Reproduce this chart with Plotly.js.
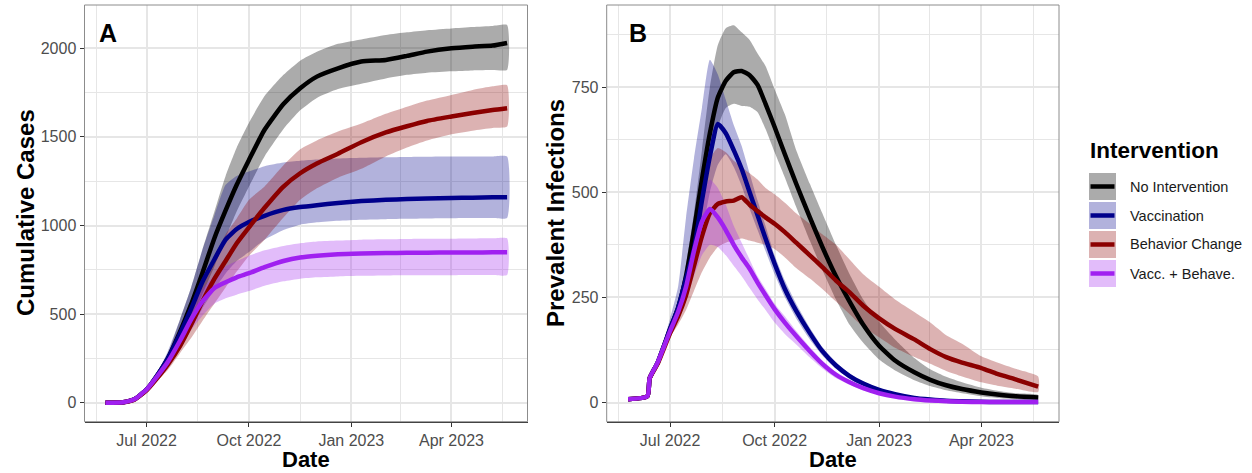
<!DOCTYPE html>
<html>
<head>
<meta charset="utf-8">
<script src="https://cdn.plot.ly/plotly-3.0.1.min.js"></script>
<style>html,body{margin:0;padding:0;background:#fff}#chart{width:1252px;height:473px}</style>
</head>
<body>
<div id="chart"></div>
<script>
// ---------- DATA ----------
const seriesNames = ['No Intervention', 'Vaccination', 'Behavior Change', 'Vacc. + Behave.'];

// Panel A: cumulative cases
const datesA = ['2022-05-25','2022-06-10','2022-06-20','2022-07-01','2022-07-10','2022-07-20','2022-07-31','2022-08-10','2022-08-20','2022-08-31','2022-09-10','2022-09-20','2022-10-01','2022-10-15','2022-11-01','2022-11-16','2022-12-01','2022-12-20','2023-01-10','2023-02-01','2023-02-20','2023-03-10','2023-04-01','2023-04-20','2023-05-08','2023-05-21'];
const cumNoInt   = [0,3,20,75,150,250,400,555,730,930,1085,1230,1370,1540,1685,1774,1840,1887,1925,1934,1957,1981,2000,2009,2015,2030];
const cumNoIntLo = [0,3,20,72,140,225,350,470,610,770,930,1080,1220,1390,1545,1650,1720,1770,1800,1830,1850,1862,1870,1875,1877,1878];
const cumNoIntHi = [0,3,20,78,160,275,470,650,860,1080,1280,1440,1580,1730,1850,1930,1980,2025,2050,2075,2090,2102,2112,2120,2126,2131];
const cumVacc    = [0,3,20,75,150,250,390,530,680,810,920,980,1020,1055,1088,1104,1115,1127,1138,1145,1149,1152,1155,1157,1159,1160];
const cumVaccLo  = [0,3,20,72,140,225,340,420,530,640,730,800,850,920,975,1005,1018,1027,1033,1036,1038,1040,1041,1042,1043,1043];
const cumVaccHi  = [0,3,20,80,165,290,470,650,860,1060,1230,1280,1305,1335,1355,1365,1372,1378,1382,1385,1387,1388,1389,1389,1390,1390];
const cumBeh     = [0,3,18,70,135,215,320,440,570,700,800,900,990,1100,1220,1295,1350,1405,1470,1525,1560,1590,1615,1635,1652,1662];
const cumBehLo   = [0,3,18,66,120,185,280,365,460,560,650,740,830,920,1045,1145,1210,1270,1320,1390,1440,1480,1515,1535,1550,1558];
const cumBehHi   = [0,3,18,74,150,245,370,520,680,830,950,1040,1145,1220,1340,1430,1480,1530,1575,1630,1670,1705,1737,1765,1785,1792];
const cumVB      = [0,3,20,75,145,230,350,470,570,648,680,708,731,765,800,820,830,838,842,845,846,847,848,848,849,849];
const cumVBLo    = [0,3,20,72,135,205,300,410,490,560,590,610,630,660,685,700,708,713,716,718,719,720,720,721,721,721];
const cumVBHi    = [0,3,20,78,155,255,390,520,640,720,770,800,830,860,885,900,910,915,920,922,924,925,926,927,928,928];

// Panel B: prevalent infections
const datesB = ['2022-05-25','2022-06-11','2022-06-13','2022-06-20','2022-07-01','2022-07-08','2022-07-15','2022-07-22','2022-07-29','2022-08-05','2022-08-12','2022-08-19','2022-08-26','2022-09-02','2022-09-09','2022-09-16','2022-09-23','2022-10-01','2022-10-10','2022-10-20','2022-11-01','2022-11-12','2022-11-24','2022-12-06','2022-12-18','2023-01-01','2023-01-15','2023-02-01','2023-02-15','2023-03-01','2023-03-15','2023-04-01','2023-04-15','2023-05-01','2023-05-21'];
const prevNoInt   = [8,15,58,95,175,225,300,410,530,640,725,765,785,788,778,755,710,655,590,520,440,370,300,240,185,135,100,72,54,41,32,24,19,15,12];
const prevNoIntLo = [8,15,58,92,165,210,275,360,470,570,655,700,710,705,703,690,650,595,535,465,385,315,245,185,142,102,76,53,39,29,22,15,11,8,6];
const prevNoIntHi = [8,15,58,100,185,240,330,450,600,750,850,890,897,880,862,830,800,745,685,600,520,450,375,305,245,192,150,106,79,61,48,35,28,22,18];
const prevVacc    = [8,15,58,95,175,225,295,365,480,585,662,640,600,555,500,445,390,330,270,218,165,122,88,63,45,30,20,11,7,4,3,2,1,1,1];
const prevVaccLo  = [8,15,58,92,165,205,260,320,400,500,565,590,560,515,460,410,360,305,250,200,150,112,80,56,40,26,17,9,5,3,2,1,0.5,0.5,0.5];
const prevVaccHi  = [8,15,58,100,200,275,440,580,700,815,780,720,660,610,545,480,420,350,290,235,178,132,96,69,50,34,23,13,8,5,4,3,2,2,2];
const prevBeh     = [8,15,58,92,165,205,255,325,395,450,472,478,480,488,470,455,440,425,405,380,350,322,290,262,230,200,175,150,127,108,95,82,68,55,38];
const prevBehLo   = [8,15,58,88,155,185,220,265,310,345,370,380,385,390,385,380,375,365,345,320,295,270,240,210,180,155,130,108,92,75,62,48,40,33,25];
const prevBehHi   = [8,15,58,95,175,230,310,410,510,580,605,595,575,560,545,530,510,495,475,450,425,400,375,340,305,275,245,215,190,160,140,110,95,80,62];
const prevVB      = [8,15,58,95,170,215,275,360,430,460,440,410,375,345,318,285,255,222,190,158,122,92,66,48,34,22,14,8,5,3,2,1,1,1,1];
const prevVBLo    = [8,15,58,92,160,195,240,300,350,375,370,350,325,300,272,245,220,190,163,138,107,81,58,42,29,19,12,6,4,2,1,0.5,0.5,0.5,0.5];
const prevVBHi    = [8,15,58,100,180,235,305,400,490,530,510,470,420,380,340,300,270,235,205,170,132,100,73,53,38,25,16,10,6,4,3,2,2,2,2];

const xTickVals = ['2022-07-01','2022-10-01','2023-01-01','2023-04-01'];
const xTickText = ['Jul 2022','Oct 2022','Jan 2023','Apr 2023'];
const xMinorVals = ['2022-05-16 12:00','2022-08-16','2022-11-16','2023-02-14 12:00','2023-05-16 12:00'];
const yTicksA = [0,500,1000,1500,2000];
const yMinorA = [250,750,1250,1750];
const yTicksB = [0,250,500,750];
const yMinorB = [125,375,625,875];

// ---------- STYLE ----------
const lineColors = ['#000000','#00008B','#8B0000','#A020F0'];
const bandColors = ['rgba(0,0,0,0.33)','rgba(0,0,139,0.3)','rgba(139,0,0,0.3)','rgba(160,32,240,0.3)'];
const keyColors  = ['rgb(171,171,171)','rgb(178,178,220)','rgb(220,178,178)','rgb(226,188,250)'];
const FONT = 'Liberation Sans, Arial, Helvetica, sans-serif';
const W = 1252, H = 473;
const px = v => v / W;
const py = v => (H - v) / H;

const panelA = {x: datesA, mean: [cumNoInt,cumVacc,cumBeh,cumVB], lo: [cumNoIntLo,cumVaccLo,cumBehLo,cumVBLo], hi: [cumNoIntHi,cumVaccHi,cumBehHi,cumVBHi], xa: 'x', ya: 'y'};
const panelB = {x: datesB, mean: [prevNoInt,prevVacc,prevBeh,prevVB], lo: [prevNoIntLo,prevVaccLo,prevBehLo,prevVBLo], hi: [prevNoIntHi,prevVaccHi,prevBehHi,prevVBHi], xa: 'x2', ya: 'y2'};

const traces = [];
[panelA, panelB].forEach(p => {
  for (let i = 0; i < 4; i++) {
    traces.push({
      type: 'scatter', mode: 'lines', xaxis: p.xa, yaxis: p.ya,
      x: p.x.concat(p.x.slice().reverse()),
      y: p.hi[i].concat(p.lo[i].slice().reverse()),
      fill: 'toself', fillcolor: bandColors[i],
      line: {width: 0, shape: 'spline', smoothing: 0.5},
      hoverinfo: 'skip', showlegend: false, name: seriesNames[i] + ' band'
    });
  }
  for (let i = 0; i < 4; i++) {
    traces.push({
      type: 'scatter', mode: 'lines', xaxis: p.xa, yaxis: p.ya,
      x: p.x, y: p.mean[i],
      line: {color: lineColors[i], width: 4.5, shape: 'spline', smoothing: 0.5},
      showlegend: false, name: seriesNames[i]
    });
  }
});

const gridCol = '#e6e6e6';
function xAxis(domain, anchor) {
  return {
    domain: domain, anchor: anchor, type: 'date',
    range: ['2022-05-06 04:00', '2023-06-08 08:00'],
    tickmode: 'array', tickvals: xTickVals, ticktext: xTickText,
    showgrid: true, gridcolor: gridCol, gridwidth: 2,
    minor: {tickmode: 'array', tickvals: xMinorVals, showgrid: true, gridcolor: gridCol, gridwidth: 1, ticks: ''},
    ticks: 'outside', ticklen: 4, tickwidth: 1, tickcolor: '#333333',
    showline: true, linecolor: '#333333', linewidth: 1, mirror: false,
    zeroline: false, tickfont: {family: FONT, size: 16, color: '#4d4d4d'}, fixedrange: true
  };
}
function yAxis(range, ticks, minor, anchor) {
  return {
    domain: [py(421.7), py(5)], anchor: anchor, range: range,
    tickmode: 'array', tickvals: ticks,
    showgrid: true, gridcolor: gridCol, gridwidth: 2,
    minor: {tickmode: 'array', tickvals: minor, showgrid: true, gridcolor: gridCol, gridwidth: 1, ticks: ''},
    ticks: 'outside', ticklen: 4, tickwidth: 1, tickcolor: '#333333',
    showline: false, zeroline: false,
    tickfont: {family: FONT, size: 16, color: '#4d4d4d'}, fixedrange: true
  };
}

const shapes = [
  {type: 'rect', xref: 'x domain', yref: 'y domain', x0: 0, x1: 1, y0: 0, y1: 1, line: {color: '#8c8c8c', width: 1}, fillcolor: 'rgba(0,0,0,0)', layer: 'above'},
  {type: 'rect', xref: 'x2 domain', yref: 'y2 domain', x0: 0, x1: 1, y0: 0, y1: 1, line: {color: '#8c8c8c', width: 1}, fillcolor: 'rgba(0,0,0,0)', layer: 'above'}
];
const annotations = [
  {text: '<b>A</b>', xref: 'paper', yref: 'paper', x: px(97), y: py(33), xanchor: 'left', yanchor: 'middle', showarrow: false, font: {family: FONT, size: 25, color: '#000'}},
  {text: '<b>B</b>', xref: 'paper', yref: 'paper', x: px(627), y: py(33), xanchor: 'left', yanchor: 'middle', showarrow: false, font: {family: FONT, size: 25, color: '#000'}},
  {text: '<b>Cumulative Cases</b>', xref: 'paper', yref: 'paper', x: px(25), y: py(213), textangle: -90, xanchor: 'center', yanchor: 'middle', showarrow: false, font: {family: FONT, size: 24, color: '#000'}},
  {text: '<b>Prevalent Infections</b>', xref: 'paper', yref: 'paper', x: px(555), y: py(213), textangle: -90, xanchor: 'center', yanchor: 'middle', showarrow: false, font: {family: FONT, size: 24, color: '#000'}},
  {text: '<b>Date</b>', xref: 'paper', yref: 'paper', x: px(306), y: py(459), xanchor: 'center', yanchor: 'middle', showarrow: false, font: {family: FONT, size: 22, color: '#000'}},
  {text: '<b>Date</b>', xref: 'paper', yref: 'paper', x: px(833), y: py(459), xanchor: 'center', yanchor: 'middle', showarrow: false, font: {family: FONT, size: 22, color: '#000'}},
  {text: '<b>Intervention</b>', xref: 'paper', yref: 'paper', x: px(1088), y: py(151), xanchor: 'left', yanchor: 'middle', showarrow: false, font: {family: FONT, size: 22.5, color: '#000'}}
];
const keyTops = [173, 202, 231, 260];
seriesNames.forEach((name, i) => {
  const t = keyTops[i], b = t + 27, m = t + 13.5;
  shapes.push({type: 'rect', xref: 'paper', yref: 'paper', x0: px(1089), x1: px(1116), y0: py(b), y1: py(t), line: {width: 0}, fillcolor: keyColors[i], layer: 'above'});
  shapes.push({type: 'line', xref: 'paper', yref: 'paper', x0: px(1090.5), x1: px(1114.5), y0: py(m), y1: py(m), line: {color: lineColors[i], width: 4.5}, layer: 'above'});
  annotations.push({text: name, xref: 'paper', yref: 'paper', x: px(1128), y: py(m), xanchor: 'left', yanchor: 'middle', showarrow: false, font: {family: FONT, size: 14.5, color: '#1a1a1a'}});
});

const layout = {
  width: W, height: H, autosize: false,
  margin: {l: 0, r: 0, t: 0, b: 0, pad: 0},
  paper_bgcolor: '#ffffff', plot_bgcolor: '#ffffff',
  showlegend: false,
  font: {family: FONT},
  xaxis: xAxis([px(84.5), px(527.5)], 'y'),
  yaxis: yAxis([-106.6, 2244], yTicksA, yMinorA, 'x'),
  xaxis2: xAxis([px(606.7), px(1059)], 'y2'),
  yaxis2: yAxis([-45.6, 945], yTicksB, yMinorB, 'x2'),
  shapes: shapes, annotations: annotations
};

Plotly.newPlot('chart', traces, layout, {staticPlot: true, displayModeBar: false});
</script>
</body>
</html>
